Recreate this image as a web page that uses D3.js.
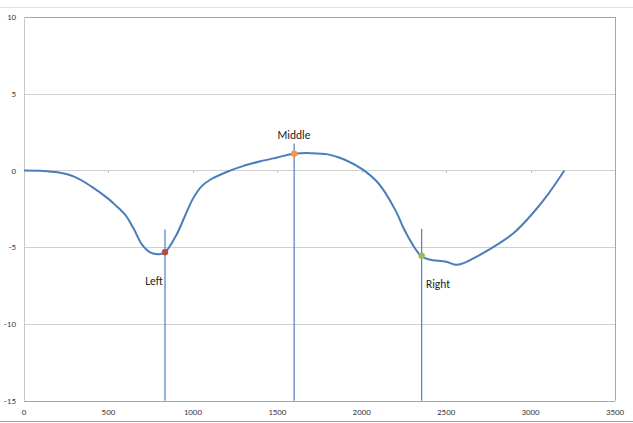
<!DOCTYPE html>
<html>
<head>
<meta charset="utf-8">
<script src="https://cdn.jsdelivr.net/npm/d3@7"></script>
<style>
  body { margin: 0; background: #fff; }
  svg { display: block; font-family: Carlito, "Liberation Sans", "Open Sans", sans-serif; }
</style>
</head>
<body>
<svg id="chart" width="633" height="423"></svg>
<script>
'use strict';

// curve values
var curveX = [0, 100, 200, 300, 400, 500, 550, 600, 650, 700, 750, 800, 835, 900, 950, 1000, 1050, 1100,
  1200, 1300, 1400, 1500, 1600, 1700, 1800, 1900, 2000, 2100, 2200, 2250, 2300, 2350,
  2400, 2500, 2560, 2600, 2700, 2800, 2900, 3000, 3100, 3200];
var curveY = [0, -0.02, -0.12, -0.42, -1.05, -1.85, -2.35, -2.9, -3.8, -4.85, -5.35, -5.45, -5.33, -4.25, -3.05, -1.85, -1.05, -0.62,
  -0.1, 0.3, 0.6, 0.85, 1.09, 1.13, 1.05, 0.7, 0.1, -0.85, -2.6, -3.8, -4.8, -5.55,
  -5.8, -5.95, -6.15, -6.05, -5.5, -4.85, -4.08, -2.95, -1.6, 0];

// marked points and their vertical markers
var markNames = ['Left', 'Middle', 'Right'];
var markX = [835, 1600, 2355];
var markY = [-5.33, 1.09, -5.56];
var markTop = [-3.85, 1.75, -3.8];
var markColors = ['#b94a48', '#f79646', '#9bbb59'];

var xTicks = [0, 500, 1000, 1500, 2000, 2500, 3000, 3500];
var yTicks = [10, 5, 0, -5, -10, -15];

var svg = d3.select('#chart');
var x = d3.scaleLinear().domain([0, 3500]).range([24, 615]);
var y = d3.scaleLinear().domain([-15, 10]).range([400.7, 17]);

// screenshot frame lines
svg.append('line').attr('x1', 0).attr('x2', 633).attr('y1', 7.5).attr('y2', 7.5)
  .style('stroke', '#e2e2e2').style('stroke-width', 1);
svg.append('line').attr('x1', 0).attr('x2', 633).attr('y1', 421.5).attr('y2', 421.5)
  .style('stroke', '#a0a0a0').style('stroke-width', 1);

// horizontal gridlines
svg.append('g').selectAll('line').data(yTicks).enter().append('line')
  .attr('x1', x(0)).attr('x2', x(3500))
  .attr('y1', function(d) { return Math.round(y(d)) + 0.5; })
  .attr('y2', function(d) { return Math.round(y(d)) + 0.5; })
  .style('stroke', function(d) { return d === 10 ? '#a6a6a6' : '#d0d0d0'; })
  .style('stroke-width', 1);

// plot border (left / right / bottom)
svg.append('line').attr('x1', x(0) + 0.5).attr('x2', x(0) + 0.5).attr('y1', y(10)).attr('y2', y(-15))
  .style('stroke', '#c8c8c8');
svg.append('line').attr('x1', x(3500) + 0.5).attr('x2', x(3500) + 0.5).attr('y1', y(10)).attr('y2', y(-15))
  .style('stroke', '#a6a6a6');
svg.append('line').attr('x1', x(0)).attr('x2', x(3500))
  .attr('y1', Math.round(y(-15)) + 0.5).attr('y2', Math.round(y(-15)) + 0.5)
  .style('stroke', '#a6a6a6');

// small ticks on the zero axis
svg.append('g').selectAll('line').data(xTicks.slice(1, -1)).enter().append('line')
  .attr('x1', function(d) { return Math.round(x(d)) + 0.5; })
  .attr('x2', function(d) { return Math.round(x(d)) + 0.5; })
  .attr('y1', Math.round(y(0))).attr('y2', Math.round(y(0)) + 3)
  .style('stroke', '#c8c8c8');

// axis labels
svg.append('g').selectAll('text').data(yTicks).enter().append('text')
  .attr('x', 16).attr('y', function(d) { return y(d); })
  .attr('dy', '0.35em').attr('text-anchor', 'end')
  .style('font-size', '9px').style('fill', '#404040')
  .text(function(d) { return d; });
svg.append('g').selectAll('text').data(xTicks).enter().append('text')
  .attr('x', function(d) { return x(d); }).attr('y', 411.5)
  .attr('dy', '0.35em').attr('text-anchor', 'middle')
  .style('font-size', '9px').style('fill', '#404040')
  .text(function(d) { return d; });

// vertical marker lines
svg.append('g').selectAll('line').data(markX).enter().append('line')
  .attr('x1', function(d) { return x(d); })
  .attr('x2', function(d) { return x(d); })
  .attr('y1', function(d, i) { return y(markTop[i]); })
  .attr('y2', y(-15))
  .style('stroke', '#4f81bd').style('stroke-width', 1.2);

// smoothed curve
var points = curveX.map(function(v, i) { return [v, curveY[i]]; });
var line = d3.line()
  .x(function(d) { return x(d[0]); })
  .y(function(d) { return y(d[1]); })
  .curve(d3.curveCatmullRom.alpha(0.5));
svg.append('path').datum(points)
  .attr('d', line)
  .style('fill', 'none').style('stroke', '#4a7ebb').style('stroke-width', 2);

// markers
svg.append('g').selectAll('circle').data(markX).enter().append('circle')
  .attr('cx', function(d) { return x(d); })
  .attr('cy', function(d, i) { return y(markY[i]); })
  .attr('r', 3.2)
  .style('fill', function(d, i) { return markColors[i]; });

// labels
var labelPos = [[154, 281], [294, 135], [438, 284]];
svg.append('g').selectAll('text').data(markNames).enter().append('text')
  .attr('x', function(d, i) { return labelPos[i][0]; })
  .attr('y', function(d, i) { return labelPos[i][1]; })
  .attr('dy', '0.35em').attr('text-anchor', 'middle')
  .style('font-size', '11.5px').style('fill', '#222')
  .text(function(d) { return d; });
</script>
</body>
</html>
